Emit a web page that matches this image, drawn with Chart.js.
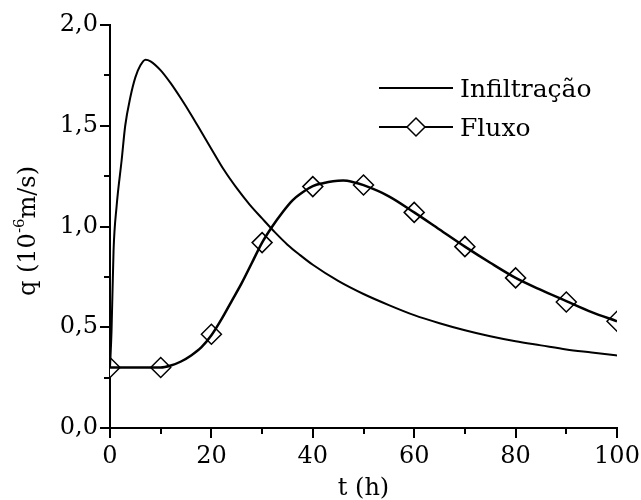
<!DOCTYPE html>
<html>
<head>
<meta charset="utf-8">
<script src="https://cdn.jsdelivr.net/npm/chart.js@4"></script>
<style>
  body { margin: 0; background: #fff; }
  canvas { display: block; }
</style>
</head>
<body>
<canvas id="chart" width="641" height="500"></canvas>
<script>
// Infiltração curve (t in h, q in 10^-6 m/s)
const infilT = [0, 0.3, 0.7, 1.3, 2.3, 3, 4, 5, 6, 7, 8, 10, 12, 14, 16, 18, 20, 22.5, 25, 27.5, 30, 32.5, 35, 37.5, 40, 45, 50, 55, 60, 65, 70, 75, 80, 85, 90, 95, 100];
const infilQ = [0.30, 0.48, 0.88, 1.10, 1.33, 1.50, 1.64, 1.74, 1.80, 1.828, 1.82, 1.775, 1.71, 1.635, 1.555, 1.47, 1.385, 1.28, 1.19, 1.11, 1.04, 0.972, 0.91, 0.858, 0.81, 0.73, 0.665, 0.61, 0.56, 0.52, 0.485, 0.455, 0.43, 0.41, 0.39, 0.375, 0.36];

// Fluxo curve
const fluxoT = [0, 5, 10, 12, 14, 16, 18, 20, 22, 24, 26, 28, 30, 32, 34, 36, 38, 40, 42, 44, 46, 48, 50, 55, 60, 65, 70, 75, 80, 85, 90, 95, 100];
const fluxoQ = [0.30, 0.30, 0.30, 0.31, 0.33, 0.36, 0.40, 0.46, 0.54, 0.63, 0.72, 0.82, 0.92, 1.00, 1.07, 1.13, 1.17, 1.20, 1.215, 1.225, 1.228, 1.22, 1.205, 1.15, 1.07, 0.985, 0.90, 0.82, 0.745, 0.685, 0.63, 0.575, 0.53];

// Fluxo markers
const markerT = [0, 10, 20, 30, 40, 50, 60, 70, 80, 90, 100];
const markerQ = [0.30, 0.30, 0.465, 0.92, 1.198, 1.206, 1.07, 0.90, 0.745, 0.625, 0.53];

const xTicks = [0, 20, 40, 60, 80, 100];
const yTicks = [0, 0.5, 1.0, 1.5, 2.0];

const FONT = "'DejaVu Serif', 'Liberation Serif', serif";
const toXY = (xs, ys) => xs.map((x, i) => ({ x, y: ys[i] }));

// minor/major tick marks, outward
const tickMarks = {
  id: 'tickMarks',
  afterDraw(chart) {
    const { ctx, chartArea: a, scales: { x, y } } = chart;
    ctx.save();
    ctx.strokeStyle = '#000';
    ctx.lineWidth = 2;
    for (let v = 0; v <= 100; v += 10) {
      const px = Math.round(x.getPixelForValue(v));
      const len = v % 20 === 0 ? 10 : 6;
      ctx.beginPath();
      ctx.moveTo(px, a.bottom);
      ctx.lineTo(px, a.bottom + len);
      ctx.stroke();
    }
    for (let v = 0; v <= 2.0001; v += 0.25) {
      const py = Math.round(y.getPixelForValue(v));
      const len = Math.abs(v / 0.5 - Math.round(v / 0.5)) < 1e-6 ? 10 : 6;
      ctx.beginPath();
      ctx.moveTo(a.left, py);
      ctx.lineTo(a.left - len, py);
      ctx.stroke();
    }
    ctx.restore();
  }
};

// axis titles + legend
const annotations = {
  id: 'annotations',
  afterDraw(chart) {
    const { ctx, chartArea: a } = chart;
    ctx.save();
    ctx.fillStyle = '#000';
    ctx.textBaseline = 'alphabetic';

    // x title
    ctx.font = '24px ' + FONT;
    ctx.textAlign = 'center';
    ctx.fillText('t (h)', (a.left + a.right) / 2, 495);

    // y title with superscript
    ctx.translate(35, 231);
    ctx.rotate(-Math.PI / 2);
    const p1 = 'q (10', p2 = '-6', p3 = 'm/s)';
    ctx.font = '24px ' + FONT;
    const w1 = ctx.measureText(p1).width, w3 = ctx.measureText(p3).width;
    ctx.font = '15px ' + FONT;
    const w2 = ctx.measureText(p2).width;
    let cx = -(w1 + w2 + w3) / 2;
    ctx.textAlign = 'left';
    ctx.font = '24px ' + FONT;
    ctx.fillText(p1, cx, 0);
    cx += w1;
    ctx.font = '15px ' + FONT;
    ctx.fillText(p2, cx, -11);
    cx += w2;
    ctx.font = '24px ' + FONT;
    ctx.fillText(p3, cx, 0);
    ctx.setTransform(1, 0, 0, 1, 0, 0);

    // legend
    ctx.strokeStyle = '#000';
    ctx.lineWidth = 2;
    ctx.beginPath();
    ctx.moveTo(379, 88); ctx.lineTo(453, 88);
    ctx.moveTo(379, 127); ctx.lineTo(453, 127);
    ctx.stroke();
    ctx.beginPath();
    ctx.moveTo(416 - 9, 127); ctx.lineTo(416, 118); ctx.lineTo(416 + 9, 127); ctx.lineTo(416, 136);
    ctx.closePath();
    ctx.fillStyle = '#fff';
    ctx.fill();
    ctx.lineWidth = 1.5;
    ctx.stroke();
    ctx.fillStyle = '#000';
    ctx.font = '25px ' + FONT;
    ctx.textAlign = 'left';
    ctx.fillText('Infiltração', 460, 97);
    ctx.fillText('Fluxo', 460, 136);
    ctx.restore();
  }
};

new Chart(document.getElementById('chart'), {
  type: 'line',
  data: {
    datasets: [
      {
        label: 'Infiltração',
        data: toXY(infilT, infilQ),
        borderColor: '#000',
        borderWidth: 2,
        pointRadius: 0,
        cubicInterpolationMode: 'monotone',
        fill: false,
      },
      {
        label: 'Fluxo',
        data: toXY(fluxoT, fluxoQ),
        borderColor: '#000',
        borderWidth: 2.5,
        pointRadius: 0,
        cubicInterpolationMode: 'monotone',
        fill: false,
      },
      {
        label: 'Fluxo pontos',
        data: toXY(markerT, markerQ),
        showLine: false,
        pointStyle: 'rectRot',
        pointRadius: 10,
        pointBackgroundColor: '#fff',
        pointBorderColor: '#000',
        pointBorderWidth: 1.5,
      },
    ]
  },
  options: {
    responsive: false,
    animation: false,
    devicePixelRatio: 1,
    layout: { padding: { top: 25, right: 24, left: 0, bottom: 0 } },
    plugins: {
      legend: { display: false },
      tooltip: { enabled: false },
    },
    scales: {
      x: {
        type: 'linear',
        min: 0,
        max: 100,
        afterBuildTicks: (s) => { s.ticks = xTicks.map(v => ({ value: v })); },
        afterFit: (s) => { s.height = 72; s.paddingRight = 0; s.paddingLeft = 0; },
        grid: { display: false, drawTicks: false },
        border: { display: true, color: '#000', width: 2 },
        ticks: {
          color: '#000',
          padding: 14,
          font: { size: 24, family: FONT },
          maxRotation: 0,
        }
      },
      y: {
        type: 'linear',
        min: 0,
        max: 2,
        afterBuildTicks: (s) => { s.ticks = yTicks.map(v => ({ value: v })); },
        afterFit: (s) => { s.width = 110; s.paddingTop = 0; s.paddingBottom = 0; },
        grid: { display: false, drawTicks: false },
        border: { display: true, color: '#000', width: 2 },
        ticks: {
          color: '#000',
          padding: 12,
          font: { size: 24, family: FONT },
          callback: (v) => v.toFixed(1).replace('.', ','),
        }
      }
    }
  },
  plugins: [tickMarks, annotations]
});
</script>
</body>
</html>
